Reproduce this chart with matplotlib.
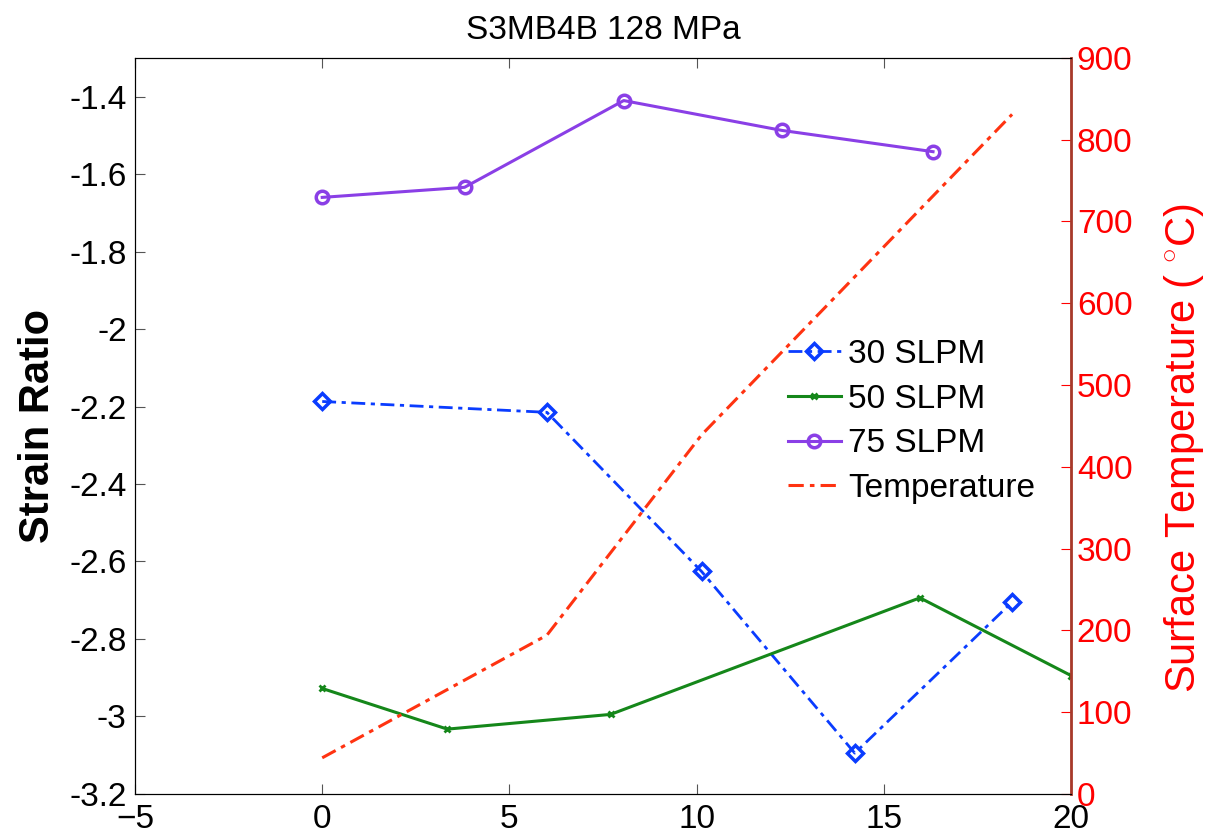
import matplotlib
matplotlib.use("Agg")
import matplotlib.pyplot as plt

plt.rcParams['font.family'] = ['Liberation Sans', 'DejaVu Sans']
plt.rcParams['mathtext.fontset'] = 'custom'
plt.rcParams['mathtext.rm'] = 'Liberation Sans'

# data
x_30 = [0, 6.0, 10.13, 14.22, 18.42]
y_30 = [-2.187, -2.215, -2.626, -3.095, -2.705]

x_50 = [0, 3.34, 7.70, 15.96, 20.0]
y_50 = [-2.928, -3.033, -2.995, -2.694, -2.895]

x_75 = [0, 3.80, 8.05, 12.27, 16.31]
y_75 = [-1.660, -1.634, -1.410, -1.487, -1.542]

x_temp = [0, 6.0, 10.13, 18.42]
temp = [44, 194, 439, 831]

fig = plt.figure(figsize=(12.05, 8.4), dpi=100)
ax = fig.add_axes([0.112, 0.055, 0.777, 0.876])

l30, = ax.plot(x_30, y_30, color='#0a3cff', linestyle='-.', dashes=(5, 2, 1.5, 2), lw=2,
               marker='D', ms=8, mfc='none', mew=2.5, label='30 SLPM')
l50, = ax.plot(x_50, y_50, color='#15871a', linestyle='-', lw=2.2,
               marker='x', ms=5, mew=2, label='50 SLPM')
l75, = ax.plot(x_75, y_75, color='#8a3fe6', linestyle='-', lw=2.2,
               marker='o', ms=9, mfc='none', mew=2.5, label='75 SLPM')

ax.set_xlim(-5, 20)
ax.set_ylim(-3.2, -1.3)
ax.set_xticks([-5, 0, 5, 10, 15, 20])
ax.set_yticks([-3.2, -3, -2.8, -2.6, -2.4, -2.2, -2, -1.8, -1.6, -1.4])
ax.set_yticklabels(['-3.2', '-3', '-2.8', '-2.6', '-2.4', '-2.2', '-2', '-1.8', '-1.6', '-1.4'])
ax.tick_params(direction='in', labelsize=24, length=7, color='#555555', top=True, right=True)
ax.tick_params(axis='x', pad=7)
ax.tick_params(axis='y', pad=6)
ax.set_ylabel('Strain Ratio', fontsize=30, fontweight='bold', labelpad=8)
ax.set_title('S3MB4B 128 MPa', fontsize=24, pad=14)

ax2 = ax.twinx()
lt, = ax2.plot(x_temp, temp, color='#ff3311', linestyle='-.', dashes=(5, 2, 1.5, 2), lw=2.2,
               label='Temperature')
ax2.set_ylim(0, 900)
ax2.set_yticks(range(0, 901, 100))
ax2.tick_params(axis='y', direction='in', labelsize=24, length=7, colors='#ff0000', pad=4)
ax2.spines['right'].set_color('#a8392a')
ax2.spines['right'].set_linewidth(2)
ax2.set_ylabel('Surface Temperature ( $^{\\circ}$C)', fontsize=30, color='#ff0000')
ax2.yaxis.set_label_coords(1.097, 0.47)

ax.legend(handles=[l30, l50, l75, lt], frameon=False, fontsize=24,
          loc='upper left', bbox_to_anchor=(0.683, 0.636), handlelength=1.6,
          labelspacing=0.41, handletextpad=0.2, borderaxespad=0)

fig.savefig('out.png', dpi=100)
